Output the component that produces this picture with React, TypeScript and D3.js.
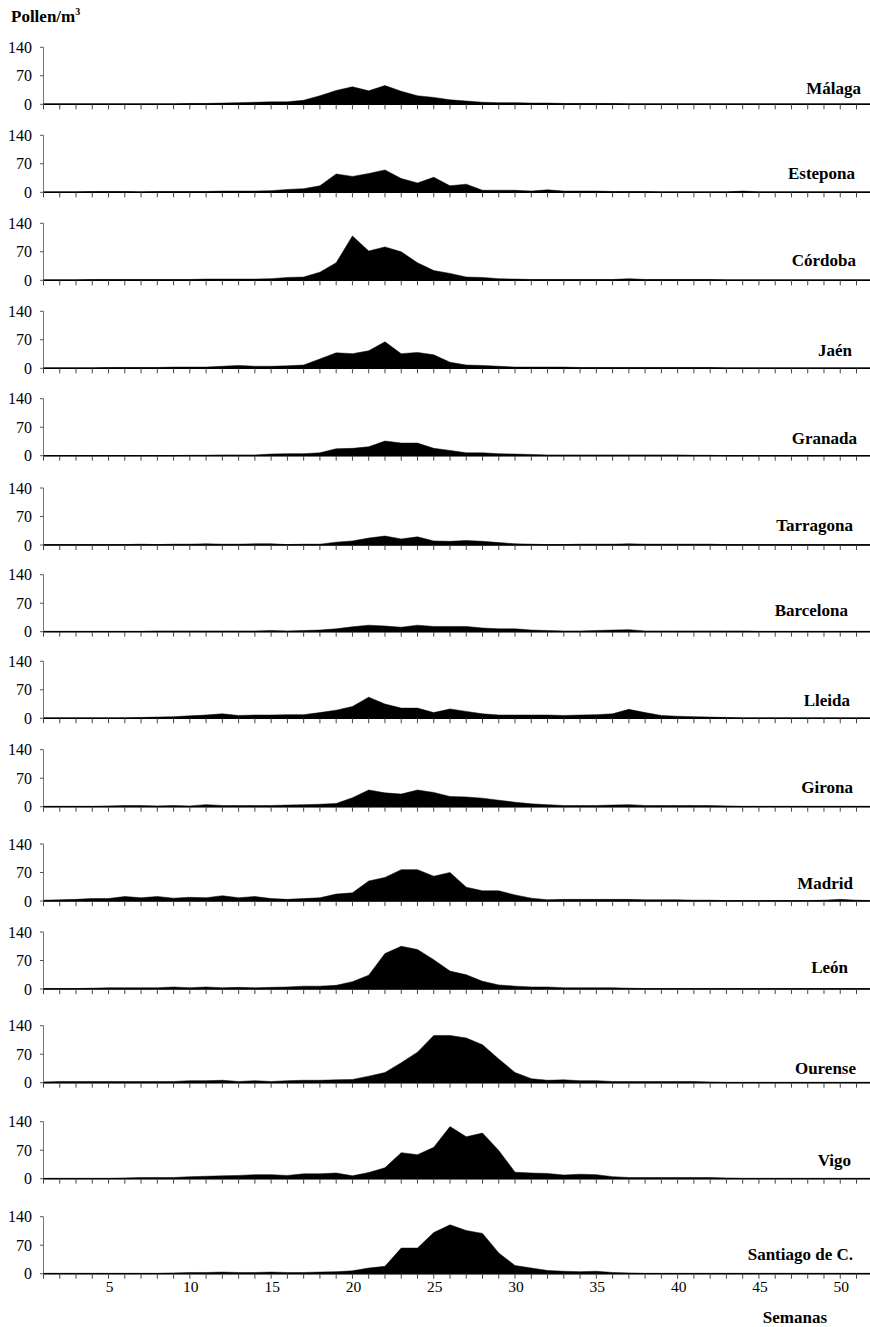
import React from "react";
import * as d3 from "d3";

// ---- data (weekly pollen counts, Pollen/m3) ----
const weeks = d3.range(1, 53);
const yTicks = [0, 70, 140];
const xTickLabels = [5, 10, 15, 20, 25, 30, 35, 40, 45, 50];

const stations = [
  "Málaga", "Estepona", "Córdoba", "Jaén", "Granada", "Tarragona", "Barcelona",
  "Lleida", "Girona", "Madrid", "León", "Ourense", "Vigo", "Santiago de C.",
];

const malaga = [1,1,1,1,1,1,1,1,1,2, 2,3,4,5,6,6,10,21,34,43, 33,46,32,21,17,11,8,5,4,4, 3,3,2,2,2,2,1,1,1,1, 1,1,1,1,1,1,1,1,1,1,1,1];
const estepona = [1,1,1,2,2,2,1,2,2,2, 2,3,3,3,4,7,9,16,45,39, 46,55,34,23,37,16,20,5,5,5, 3,6,3,3,3,2,2,2,1,1, 1,1,1,3,1,1,1,1,1,1,1,1];
const cordoba = [1,1,1,2,2,2,2,2,2,2, 3,3,3,3,4,7,8,20,43,109, 72,82,70,43,24,17,8,7,4,3, 2,2,2,2,2,2,4,2,2,2, 2,2,1,1,1,1,1,1,1,1,1,1];
const jaen = [1,1,1,1,2,2,2,2,3,3, 3,5,7,5,5,6,8,23,38,36, 43,65,36,39,33,15,8,7,5,3, 3,3,3,2,2,2,2,2,2,2, 2,2,1,1,1,1,1,1,1,1,1,1];
const granada = [0,0,0,0,0,0,0,0,0,1, 1,2,2,2,4,5,5,7,17,18, 22,36,31,31,18,13,7,7,5,4, 3,2,2,2,2,2,2,2,2,2, 1,1,0,0,0,0,0,0,0,0,0,0];
const tarragona = [1,1,1,1,1,1,2,1,2,2, 3,2,2,3,3,1,2,2,7,10, 17,22,15,20,10,9,11,9,6,3, 2,1,1,2,2,2,3,2,2,2, 2,2,1,1,1,1,1,1,1,1,1,1];
const barcelona = [1,1,1,1,1,1,1,2,2,2, 2,2,2,2,3,2,3,4,7,12, 16,14,11,16,13,13,13,9,7,7, 4,3,2,2,3,4,5,2,2,2, 2,2,2,2,1,1,1,1,1,1,1,1];
const lleida = [1,1,1,1,1,1,2,3,4,6, 8,11,7,8,8,9,9,14,20,29, 52,35,25,25,14,23,17,11,8,8, 8,8,7,8,9,11,22,14,7,5, 4,3,2,1,1,1,1,1,1,1,1,1];
const girona = [1,1,1,1,2,3,3,2,3,2, 5,3,3,3,3,4,5,6,8,22, 41,34,31,41,35,25,24,21,16,11, 7,5,3,3,3,4,5,3,3,3, 3,3,2,1,1,1,1,1,1,1,1,1];
const madrid = [2,3,4,6,6,11,8,11,7,9, 8,13,8,11,6,4,6,8,17,20, 49,58,77,77,61,70,34,25,25,15, 7,3,4,4,4,4,4,3,3,3, 2,2,1,1,1,1,1,1,2,4,2,1];
const leon = [1,1,1,2,3,3,3,3,5,3, 5,3,4,3,4,5,7,7,9,18, 34,87,105,97,72,44,35,19,10,7, 5,5,3,3,3,3,2,1,1,1, 1,1,1,1,1,1,1,1,1,1,1,1];
const ourense = [2,3,3,3,3,3,3,3,3,5, 5,6,3,5,3,5,6,6,7,8, 16,25,49,75,116,116,110,93,58,25, 10,6,7,5,5,3,3,3,3,3, 3,2,1,1,1,1,1,1,1,1,1,1];
const vigo = [1,1,1,1,1,2,3,3,3,5, 6,7,8,10,10,8,12,12,14,7, 15,27,64,59,77,128,103,112,69,16, 14,13,9,11,10,5,3,3,3,3, 3,3,2,1,1,1,1,1,1,1,1,1];
const santiago = [1,1,1,1,1,1,1,1,2,3, 3,4,3,3,4,3,3,4,5,7, 14,18,63,63,101,120,106,99,51,20, 14,8,6,5,6,3,2,1,1,1, 1,1,1,1,1,1,1,1,1,1,1,1];

const series = [malaga, estepona, cordoba, jaen, granada, tarragona, barcelona,
  lleida, girona, madrid, leon, ourense, vigo, santiago];

// ---- layout ----
const W = 870;
const H = 1327;
const panelZero = [104.3, 192.3, 280.3, 368.3, 455.7, 545, 631.7, 718.3, 806.7, 901, 989, 1082.7, 1178.7, 1273.7];
const labelOffset = [10, 13, 14, 12, 12, 14, 16, 12, 14, 12, 16, 9, 13, 14];
const labelRight = [861, 855, 856, 852, 857, 853, 848, 850, 853, 853, 848, 856, 851, 853];
const panelH = 57;
const xLeft = 43.5;
const step = 16.26;
const FONT = "'Liberation Serif', 'Times New Roman', Times, serif";

export default function App() {
  const x = d3.scaleLinear().domain([1, 52]).range([xLeft, xLeft + 51 * step]);

  return (
    <svg width={W} height={H} style={{ position: "absolute", left: 0, top: 0, background: "#fff" }}
      fontFamily={FONT}>
      <rect x={0} y={0} width={W} height={H} fill="#fff" />
      <text x={11} y={21.5} fontSize={17} fontWeight="bold" fill="#000">
        Pollen/m<tspan dy={-7} fontSize={10}>3</tspan>
      </text>
      {series.map((vals, i) => {
        const zero = panelZero[i];
        const y = d3.scaleLinear().domain([0, 140]).range([zero, zero - panelH]);
        const area = d3.area<number>()
          .x((_, j) => x(weeks[j]))
          .y0(zero)
          .y1((d) => y(d));
        return (
          <g key={stations[i]}>
            <path d={area(vals) || ""} fill="#000" stroke="#000" strokeWidth={0.5} strokeLinejoin="round" />
            {/* y axis */}
            <line x1={xLeft} x2={xLeft} y1={y(140)} y2={zero} stroke="#777" strokeWidth={1} />
            {yTicks.map((t) => (
              <g key={t}>
                <line x1={xLeft - 3.5} x2={xLeft} y1={y(t)} y2={y(t)} stroke="#555" strokeWidth={1} />
                <text x={32} y={y(t)} dy="0.35em" textAnchor="end" fontSize={16} fill="#000">{t}</text>
              </g>
            ))}
            {/* x axis */}
            <line x1={xLeft} x2={W} y1={zero} y2={zero} stroke="#000" strokeWidth={1.5} />
            {weeks.map((w) => (
              <line key={w} x1={x(w)} x2={x(w)} y1={zero} y2={zero + 5} stroke="#444" strokeWidth={1} />
            ))}
            <text x={labelRight[i]} y={zero - labelOffset[i]} textAnchor="end" fontSize={17}
              fontWeight="bold" fill="#000">{stations[i]}</text>
            {i === series.length - 1 &&
              xTickLabels.map((t) => (
                <text key={t} x={x(t) + 1} y={1292} textAnchor="middle" fontSize={15.5} fill="#000">{t}</text>
              ))}
          </g>
        );
      })}
      <text x={827} y={1323} textAnchor="end" fontSize={17} fontWeight="bold" fill="#000">Semanas</text>
    </svg>
  );
}
